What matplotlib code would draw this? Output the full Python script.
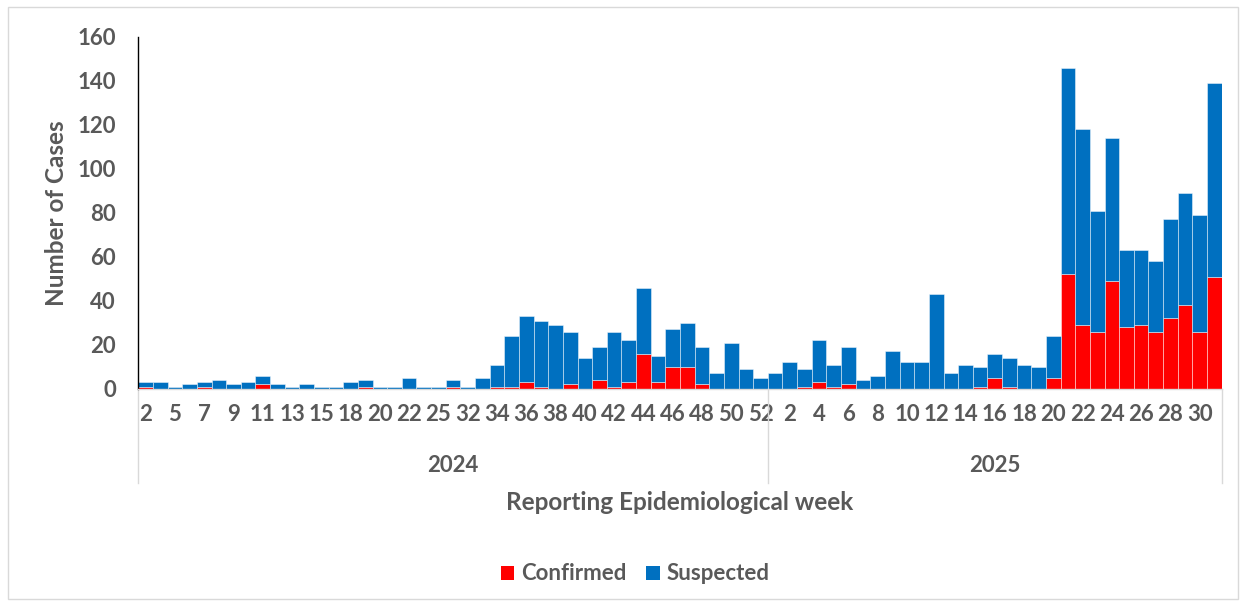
import matplotlib
matplotlib.use("Agg")
import matplotlib.pyplot as plt
from matplotlib.lines import Line2D
from matplotlib.patches import Rectangle

plt.rcParams['font.family'] = ['Lato', 'DejaVu Sans']

weeks_2024 = [2, 3, 5, 6, 7, 8, 9, 10, 11, 12, 13, 14, 15, 16, 18, 19, 20, 21, 22, 23, 25,
              31, 32, 33, 34, 35, 36, 37, 38, 39, 40, 41, 42, 43, 44, 45, 46, 47, 48, 49,
              50, 51, 52]
weeks_2025 = list(range(1, 32))

confirmed_2024 = [1, 0, 0, 0, 1, 0, 0, 0, 2, 0, 0, 0, 0, 0, 0, 1, 0, 0, 0, 0, 0,
                  1, 0, 0, 1, 1, 3, 1, 0, 2, 0, 4, 1, 3, 16, 3, 10, 10, 2, 0,
                  0, 0, 0]
suspected_2024 = [2, 3, 1, 2, 2, 4, 2, 3, 4, 2, 1, 2, 1, 1, 3, 3, 1, 1, 5, 1, 1,
                  3, 1, 5, 10, 23, 30, 30, 29, 24, 14, 15, 25, 19, 30, 12, 17, 20, 17, 7,
                  21, 9, 5]
confirmed_2025 = [0, 0, 1, 3, 1, 2, 0, 0, 0, 0, 0, 0, 0, 0, 1, 5, 1, 0, 0, 5,
                  52, 29, 26, 49, 28, 29, 26, 32, 38, 26, 51]
suspected_2025 = [7, 12, 8, 19, 10, 17, 4, 6, 17, 12, 12, 43, 7, 11, 9, 11, 13, 11, 10, 19,
                  94, 89, 55, 65, 35, 34, 32, 45, 51, 53, 88]

years = ["2024", "2025"]
series_names = ["Confirmed", "Suspected"]
red = "#FF0000"
blue = "#0070C0"
txt = "#595959"
FS = 16
TFS = 17.5

labels = [str(w) for w in weeks_2024] + [str(w) for w in weeks_2025]
confirmed = confirmed_2024 + confirmed_2025
suspected = suspected_2024 + suspected_2025
n = len(labels)
x = list(range(n))

fig = plt.figure(figsize=(12.46, 6.07), dpi=100)
ax = fig.add_axes([138.3 / 1246, (607 - 388.8) / 607, (1221.7 - 138.3) / 1246, (388.8 - 36.7) / 607])

ax.bar(x, confirmed, width=1.0, color=red, edgecolor=(1, 1, 1, 0.45), linewidth=0.7, label=series_names[0])
ax.bar(x, suspected, width=1.0, bottom=confirmed, color=blue, edgecolor=(1, 1, 1, 0.45), linewidth=0.7,
       label=series_names[1])

ax.set_xlim(-0.5, n - 0.5)
ax.set_ylim(0, 160)
ax.set_yticks(range(0, 161, 20))
ax.set_xticks(x[::2])
ax.set_xticklabels(labels[::2])
ax.tick_params(axis='y', length=0, pad=16, labelsize=FS, labelcolor=txt)
ax.tick_params(axis='x', length=0, pad=11, labelsize=FS, labelcolor=txt)
for lab in ax.get_xticklabels() + ax.get_yticklabels():
    lab.set_fontweight('bold')

for s in ['top', 'right']:
    ax.spines[s].set_visible(False)
ax.spines['left'].set_color('black')
ax.spines['left'].set_linewidth(1.0)
ax.spines['bottom'].set_color('#D9D9D9')
ax.spines['bottom'].set_linewidth(1.0)

# group separators and year labels
n24 = len(weeks_2024)
trans = ax.get_xaxis_transform()
y_low = -(483 - 388.8) / (388.8 - 36.7)
for xb in [-0.5, n24 - 0.5, n - 0.5]:
    ax.add_line(Line2D([xb, xb], [0, y_low], transform=trans, color='#D9D9D9', lw=1.0, clip_on=False))
y_year = -(466 - 388.8) / (388.8 - 36.7)
ax.text((-0.5 + n24 - 0.5) / 2, y_year, years[0], transform=trans, ha='center', va='center',
        fontsize=FS, fontweight='bold', color=txt)
ax.text((n24 - 0.5 + n - 0.5) / 2, y_year, years[1], transform=trans, ha='center', va='center',
        fontsize=FS, fontweight='bold', color=txt)

fig.text(680 / 1246, 1 - 502 / 607, "Reporting Epidemiological week", ha='center', va='center',
         fontsize=TFS, fontweight='bold', color=txt)
fig.text(57 / 1246, 1 - 212.7 / 607, "Number of Cases", ha='center', va='center', rotation=90,
         fontsize=TFS, fontweight='bold', color=txt)

leg = fig.legend(loc='center', bbox_to_anchor=(635 / 1246, 1 - 574 / 607), ncol=2, frameon=False,
                 fontsize=FS, handlelength=0.6, handleheight=0.6, handletextpad=0.3, columnspacing=0.9)
for t in leg.get_texts():
    t.set_color(txt)
    t.set_fontweight('bold')
for h in leg.legend_handles:
    h.set_edgecolor('none')

fig.add_artist(Rectangle((8 / 1246, 8 / 607), 1230 / 1246, 592 / 607, transform=fig.transFigure,
                         fill=False, edgecolor='#D9D9D9', lw=1.0))

fig.savefig("out.png", dpi=100)
